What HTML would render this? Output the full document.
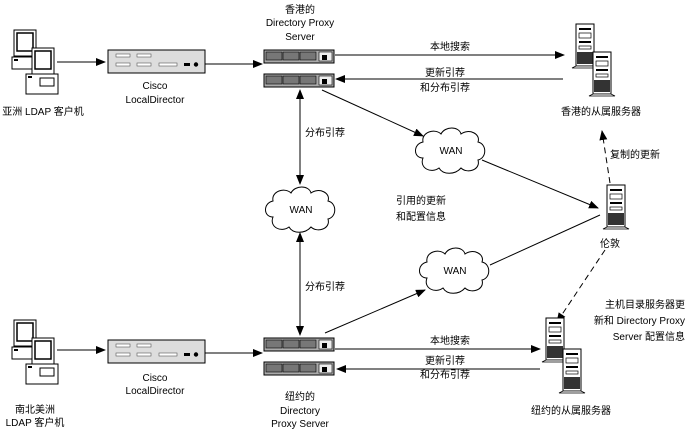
<!DOCTYPE html>
<html><head><meta charset="utf-8"><style>
html,body{margin:0;padding:0;background:#fff;}
svg{display:block;font-family:"Liberation Sans","Noto Sans CJK SC",sans-serif;font-size:10px;}
</style></head><body>
<svg width="687" height="431" viewBox="0 0 687 431" xmlns="http://www.w3.org/2000/svg">
<defs>
<marker id="a" markerWidth="10" markerHeight="8" refX="9" refY="4" orient="auto" markerUnits="userSpaceOnUse"><path d="M0,0 L10,4 L0,8 z" fill="#000"/></marker>
<marker id="s" markerWidth="10" markerHeight="8" refX="1" refY="4" orient="auto" markerUnits="userSpaceOnUse"><path d="M10,0 L0,4 L10,8 z" fill="#000"/></marker>
<g id="pc">
 <rect x="14" y="0" width="22" height="26" fill="#fff" stroke="#000"/><rect x="17" y="3" width="16" height="18" fill="#fff" stroke="#000" stroke-width="1.5"/>
 <rect x="12" y="27" width="30" height="12" fill="#fff" stroke="#000"/><rect x="14" y="29" width="4" height="2" fill="#000"/>
 <rect x="32" y="18" width="22" height="26" fill="#fff" stroke="#000"/><rect x="35" y="21" width="16" height="18" fill="#fff" stroke="#000" stroke-width="1.5"/>
 <rect x="26" y="44" width="32" height="20" fill="#fff" stroke="#000"/><rect x="40" y="48" width="14" height="8" fill="none" stroke="#000"/><rect x="28" y="46" width="4" height="2" fill="#000"/>
</g>
<g id="ld">
 <rect x="0" y="0" width="97" height="23" fill="#ddd" stroke="#000"/>
 <rect x="8" y="4" width="14" height="3" fill="#fff" stroke="#555" stroke-width=".6"/><rect x="29" y="4" width="14" height="3" fill="#fff" stroke="#555" stroke-width=".6"/>
 <rect x="8" y="13" width="14" height="3" fill="#fff" stroke="#555" stroke-width=".6"/><rect x="29" y="13" width="14" height="3" fill="#fff" stroke="#555" stroke-width=".6"/><rect x="51" y="13" width="18" height="3" fill="#fff" stroke="#555" stroke-width=".6"/>
 <rect x="76" y="13" width="6" height="3" fill="#000"/><circle cx="88" cy="14.5" r="2.2" fill="#000"/>
</g>
<g id="px">
 <rect x="0" y="0" width="70" height="13" fill="#aaa" stroke="#000"/>
 <rect x="2" y="2" width="16" height="8" fill="#777" stroke="#000" stroke-width=".6"/><rect x="19" y="2" width="16" height="8" fill="#777" stroke="#000" stroke-width=".6"/><rect x="36" y="2" width="16" height="8" fill="#777" stroke="#000" stroke-width=".6"/>
 <rect x="55" y="2" width="13" height="9" fill="#eee" stroke="#000" stroke-width=".6"/><rect x="58" y="5" width="5" height="5" fill="#000"/>
</g>
<g id="sv">
 <rect x="0" y="0" width="18" height="42" fill="#fff" stroke="#000"/>
 <rect x="3" y="4" width="12" height="2" fill="#000"/><rect x="3" y="9" width="12" height="5" fill="none" stroke="#000" stroke-width=".7"/><rect x="3" y="17" width="12" height="2" fill="#000"/><rect x="3" y="22" width="12" height="3" fill="none" stroke="#000" stroke-width=".7"/>
 <rect x="1" y="28" width="16" height="12" fill="#333"/>
 <path d="M-4,44 L22,44 L18,42 L0,42 z" fill="#fff" stroke="#000" stroke-width=".8"/>
</g>
<g id="cloud">
 <path d="M-28,8 C-38,8 -38,-6 -28,-8 C-30,-18 -16,-22 -10,-16 C-6,-24 8,-24 10,-16 C18,-22 30,-16 27,-8 C36,-6 36,8 27,10 C30,20 16,24 10,18 C4,25 -8,25 -12,18 C-20,24 -32,18 -28,8 z" fill="#fff" stroke="#000"/>
</g>
</defs>

<use href="#pc" x="0" y="30"/>
<text x="43" y="115" text-anchor="middle">亚洲 LDAP 客户机</text>
<line x1="57" y1="62" x2="105" y2="62" stroke="#000" marker-end="url(#a)"/>
<use href="#ld" x="108" y="50"/>
<text x="155" y="89" text-anchor="middle">Cisco</text><text x="155" y="103" text-anchor="middle">LocalDirector</text>
<line x1="205" y1="64" x2="262" y2="64" stroke="#000" marker-end="url(#a)"/>
<use href="#px" x="264" y="50"/><use href="#px" x="264" y="74"/>
<text x="300" y="13" text-anchor="middle">香港的</text><text x="300" y="26" text-anchor="middle">Directory Proxy</text><text x="300" y="40" text-anchor="middle">Server</text>
<line x1="335" y1="55" x2="564" y2="55" stroke="#000" marker-end="url(#a)"/>
<text x="450" y="50" text-anchor="middle">本地搜索</text>
<line x1="563" y1="79" x2="336" y2="79" stroke="#000" marker-end="url(#a)"/>
<text x="445" y="76" text-anchor="middle">更新引荐</text><text x="445" y="91" text-anchor="middle">和分布引荐</text>
<use href="#sv" x="576" y="24"/><use href="#sv" x="593" y="52"/>
<text x="601" y="115" text-anchor="middle">香港的从属服务器</text>

<line x1="322" y1="90" x2="423" y2="136" stroke="#000" marker-end="url(#a)"/>
<use href="#cloud" x="451" y="150"/><text x="451" y="154" text-anchor="middle">WAN</text>
<line x1="482" y1="160" x2="598" y2="208" stroke="#000" marker-end="url(#a)"/>
<use href="#sv" x="607" y="185"/>
<text x="610" y="247" text-anchor="middle">伦敦</text>
<line x1="610" y1="183" x2="602" y2="131" stroke="#000" stroke-dasharray="6,4" marker-end="url(#a)"/>
<text x="610" y="158">复制的更新</text>

<line x1="300" y1="90" x2="300" y2="184" stroke="#000" marker-start="url(#s)" marker-end="url(#a)"/>
<text x="305" y="136">分布引荐</text>
<use href="#cloud" x="301" y="209"/><text x="301" y="213" text-anchor="middle">WAN</text>
<text x="396" y="204">引用的更新</text><text x="396" y="220">和配置信息</text>

<line x1="300" y1="233" x2="300" y2="335" stroke="#000" marker-start="url(#s)" marker-end="url(#a)"/>
<text x="305" y="290">分布引荐</text>
<use href="#cloud" x="455" y="270"/><text x="455" y="274" text-anchor="middle">WAN</text>
<line x1="325" y1="333" x2="425" y2="290" stroke="#000" marker-end="url(#a)"/>
<line x1="490" y1="265" x2="600" y2="215" stroke="#000"/>
<line x1="605" y1="250" x2="557" y2="322" stroke="#000" stroke-dasharray="6,4" marker-end="url(#a)"/>
<text x="685" y="308" text-anchor="end">主机目录服务器更</text>
<text x="685" y="324" text-anchor="end">新和 Directory Proxy</text>
<text x="685" y="340" text-anchor="end">Server 配置信息</text>

<use href="#pc" x="0" y="320"/>
<text x="35" y="413" text-anchor="middle">南北美洲</text><text x="35" y="426" text-anchor="middle">LDAP 客户机</text>
<line x1="57" y1="350" x2="105" y2="350" stroke="#000" marker-end="url(#a)"/>
<use href="#ld" x="108" y="340"/>
<text x="155" y="381" text-anchor="middle">Cisco</text><text x="155" y="394" text-anchor="middle">LocalDirector</text>
<line x1="205" y1="353" x2="262" y2="353" stroke="#000" marker-end="url(#a)"/>
<use href="#px" x="264" y="338"/><use href="#px" x="264" y="362"/>
<text x="300" y="400" text-anchor="middle">纽约的</text><text x="300" y="414" text-anchor="middle">Directory</text><text x="300" y="427" text-anchor="middle">Proxy Server</text>
<line x1="335" y1="349" x2="540" y2="349" stroke="#000" marker-end="url(#a)"/>
<text x="450" y="344" text-anchor="middle">本地搜索</text>
<line x1="540" y1="369" x2="337" y2="369" stroke="#000" marker-end="url(#a)"/>
<text x="445" y="364" text-anchor="middle">更新引荐</text><text x="445" y="378" text-anchor="middle">和分布引荐</text>
<use href="#sv" x="546" y="318"/><use href="#sv" x="563" y="349"/>
<text x="571" y="414" text-anchor="middle">纽约的从属服务器</text>
</svg>
</body></html>
